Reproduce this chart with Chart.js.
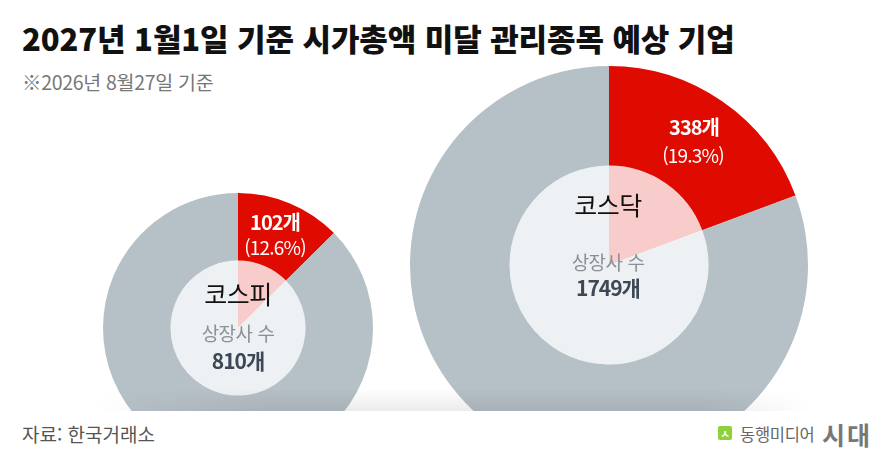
<!DOCTYPE html>
<html lang="ko">
<head>
<meta charset="utf-8">
<script src="https://cdn.jsdelivr.net/npm/chart.js@4.4.1/dist/chart.umd.min.js"></script>
<style>
  html, body { margin: 0; padding: 0; background: #fff; }
  body { width: 890px; height: 461px; position: relative; overflow: hidden;
         font-family: "Noto Sans CJK KR", "Noto Sans", sans-serif; }
  .abs { position: absolute; white-space: nowrap; }
  #titulo { left: 22px; top: 17px; font-size: 31px; font-weight: 900; color: #111; letter-spacing: -0.1px; line-height: 42px; }
  #sub { left: 22px; top: 70px; font-size: 19.5px; color: #777; letter-spacing: -0.3px; line-height: 24px; }
  #palco { position: absolute; left: 0; top: 0; width: 890px; height: 411px; overflow: hidden; }
  .caixa { position: absolute; }
  #sombra { position: absolute; left: 90px; width: 720px; top: 388px; height: 23px;
            background: linear-gradient(to bottom, rgba(0,0,0,0), rgba(0,0,0,0.08));
            -webkit-mask-image: linear-gradient(to right, transparent, #000 25%, #000 85%, transparent);
            mask-image: linear-gradient(to right, transparent, #000 25%, #000 85%, transparent); }
  .rot { transform: translate(-50%, -50%); text-align: center; }
  .qtd { font-size: 20px; font-weight: 700; color: #fff; letter-spacing: -1px; }
  .pct { font-size: 19px; color: #fff; letter-spacing: -0.8px; }
  .mercado { font-size: 25px; color: #111; letter-spacing: -0.5px; }
  .sub_c { font-size: 19px; color: #8a9096; letter-spacing: -0.5px; }
  .total { font-size: 21px; font-weight: 700; color: #3e4756; letter-spacing: -1px; }
  #fonte { left: 22px; top: 422px; font-size: 19px; color: #555; letter-spacing: 0px; line-height: 24px; }
  #logo_q { left: 718px; top: 426px; width: 14px; height: 14px; background: #8fd13b; border-radius: 2px;
            color: #fff; font-size: 11px; font-weight: 700; line-height: 14px; text-align: center; }
  #logo_t { left: 740px; top: 422px; font-size: 16.5px; color: #666; letter-spacing: -0.3px; line-height: 24px; }
  #logo_s { left: 822px; top: 418px; font-size: 25px; font-weight: 700; color: #777; letter-spacing: 2px; line-height: 32px; }
</style>
</head>
<body>
<div id="titulo" class="abs">2027년 1월1일 기준 시가총액 미달 관리종목 예상 기업</div>
<div id="sub" class="abs">※2026년 8월27일 기준</div>

<div id="palco">
  <div class="caixa" id="caixa0" style="left:103px; top:193px; width:270px; height:270px;"><canvas id="grafico1"></canvas></div>
  <div class="caixa" id="caixa1" style="left:410px; top:66px; width:398px; height:398px;"><canvas id="grafico2"></canvas></div>
  <div id="sombra"></div>
</div>

<div id="rotulos"></div>

<div id="fonte" class="abs">자료: 한국거래소</div>
<div id="logo_q" class="abs">ㅅ</div>
<div id="logo_t" class="abs">동행미디어</div>
<div id="logo_s" class="abs">시대</div>

<script>
// dados
const mercados = ['코스피', '코스닥'];
const listadas = [810, 1749];
const previstas = [102, 338];
const rotulo_sub = '상장사 수';

const cor_vermelho = '#e00b00';
const cor_cinza = '#b6c1c7';
const cor_rosa = '#f8cccb';
const cor_claro = '#eef1f3';

// posicoes dos textos (centro) para cada pizza
const pos_qtd = [[275, 221], [694, 126]];
const pos_pct = [[275, 246], [693, 154]];
const pos_mercado = [[238, 293], [608, 204]];
const pos_sub = [[238, 332], [608, 261]];
const pos_total = [[238, 360], [608, 287]];

const graficos = ['grafico1', 'grafico2'];

function cria_pizza(i) {
    const resto = listadas[i] - previstas[i];
    const config = {
        type: 'pie',
        data: {
            labels: ['관리종목 예상', '기타'],
            datasets: [
                {
                    data: [previstas[i], resto],
                    backgroundColor: [cor_vermelho, cor_cinza],
                    borderWidth: 0,
                    hoverOffset: 0,
                    weight: 1
                },
                {
                    data: [previstas[i], resto],
                    backgroundColor: [cor_rosa, cor_claro],
                    borderWidth: 0,
                    hoverOffset: 0,
                    weight: 1
                }
            ]
        },
        options: {
            responsive: true,
            maintainAspectRatio: false,
            animation: false,
            events: [],
            layout: { padding: 0 },
            plugins: {
                legend: { display: false },
                tooltip: { enabled: false }
            }
        }
    };
    return new Chart(document.getElementById(graficos[i]), config);
}

function poe_texto(classe, texto, pos) {
    const d = document.createElement('div');
    d.className = 'abs rot ' + classe;
    d.style.left = pos[0] + 'px';
    d.style.top = pos[1] + 'px';
    d.textContent = texto;
    document.getElementById('rotulos').appendChild(d);
}

for (var i = 0; i < mercados.length; i++) {
    cria_pizza(i);
    const pct = (previstas[i] / listadas[i] * 100).toFixed(1);
    poe_texto('qtd', previstas[i] + '개', pos_qtd[i]);
    poe_texto('pct', '(' + pct + '%)', pos_pct[i]);
    poe_texto('mercado', mercados[i], pos_mercado[i]);
    poe_texto('sub_c', rotulo_sub, pos_sub[i]);
    poe_texto('total', listadas[i] + '개', pos_total[i]);
}
</script>
</body>
</html>
